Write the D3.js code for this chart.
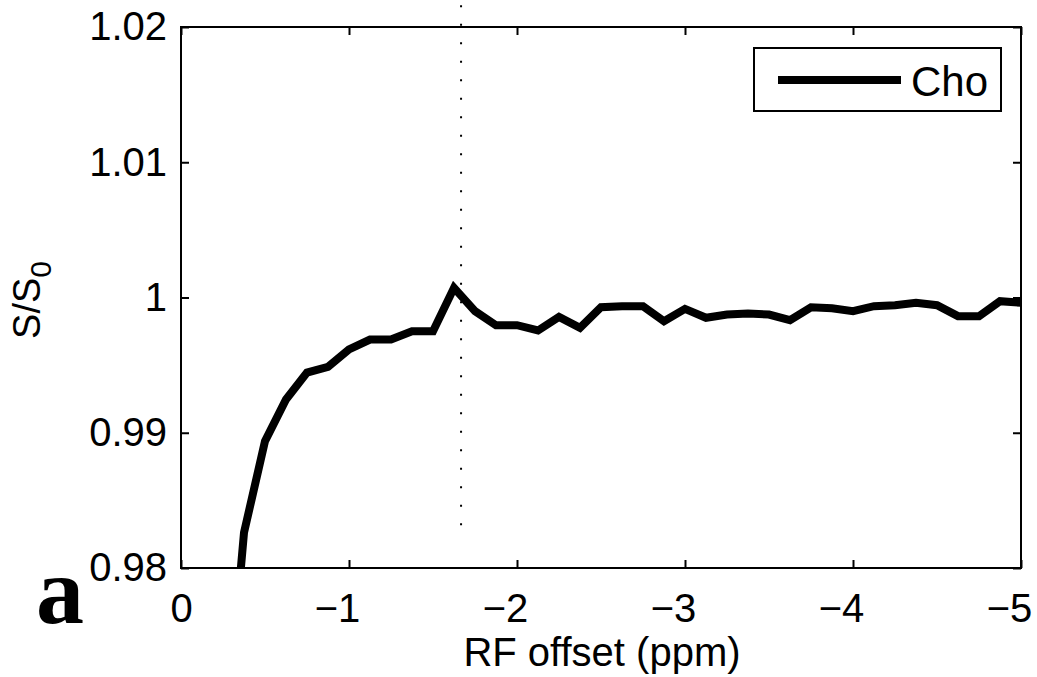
<!DOCTYPE html>
<html>
<head>
<meta charset="utf-8">
<script src="https://cdn.jsdelivr.net/npm/d3@7"></script>
<style>
  body { margin: 0; background: #fff; }
  text { fill: #000; }
</style>
</head>
<body>
<svg width="1037" height="677"></svg>
<script>
// RF offset (ppm) and normalised signal S/S0 for Cho
const offsets = [-0.25, -0.375, -0.5, -0.625, -0.75, -0.875, -1.0, -1.125, -1.25, -1.375, -1.5,
	-1.625, -1.75, -1.875, -2.0, -2.125, -2.25, -2.375, -2.5, -2.625, -2.75, -2.875, -3.0,
	-3.125, -3.25, -3.375, -3.5, -3.625, -3.75, -3.875, -4.0, -4.125, -4.25, -4.375, -4.5,
	-4.625, -4.75, -4.875, -5.0];
const choValues = [0.9650, 0.98262, 0.98938, 0.99246, 0.99445, 0.99488, 0.99616, 0.99689, 0.99689, 0.99751, 0.99751,
	1.00072, 0.99899, 0.99795, 0.99795, 0.99756, 0.99857, 0.99776, 0.99928, 0.99936, 0.99936, 0.99825, 0.99916,
	0.99850, 0.99874, 0.99882, 0.99874, 0.99832, 0.99928, 0.99920, 0.99899, 0.99936, 0.99943, 0.99961, 0.99943,
	0.99862, 0.99862, 0.99973, 0.99961];
const xTicks = [0, -1, -2, -3, -4, -5];
const yTicks = [0.98, 0.99, 1.0, 1.01, 1.02];
const markerOffset = -1.667;
const markerRange = [1.0216, 0.9821];
const seriesName = 'Cho';

const sans = "'Liberation Sans', Arial, Helvetica, sans-serif";
const serif = "'Liberation Serif', 'Times New Roman', serif";

let svg = d3.select("svg");

const plotLeft = 181, plotRight = 1021, plotTop = 27, plotBottom = 568;

const x = d3.scaleLinear().domain([0, -5]).range([plotLeft, plotRight]);
const y = d3.scaleLinear().domain([0.98, 1.02]).range([plotBottom, plotTop]);

svg.append("defs").append("clipPath")
		.attr("id", "plot-clip")
	.append("rect")
		.attr("x", plotLeft).attr("y", plotTop)
		.attr("width", plotRight - plotLeft).attr("height", plotBottom - plotTop);

// dotted marker line (runs a bit past the top of the box)
svg.append("line")
	.attr("x1", x(markerOffset)).attr("x2", x(markerOffset))
	.attr("y1", y(markerRange[0])).attr("y2", y(markerRange[1]))
	.attr("stroke", "#000")
	.attr("stroke-width", 2)
	.attr("stroke-dasharray", "2,16.5");

const data = offsets.map((o, i) => ({ x: o, y: choValues[i] }));

const line = d3.line()
	.x(d => x(d.x))
	.y(d => y(d.y));

svg.append("path")
	.datum(data)
	.attr("clip-path", "url(#plot-clip)")
	.attr("fill", "none")
	.attr("stroke", "#000")
	.attr("stroke-width", 8)
	.attr("stroke-linejoin", "miter")
	.attr("d", line);

// axes, matlab style: ticks inside, mirrored on top / right
const tickLen = 8;

const xAxisBottom = d3.axisBottom(x).tickValues(xTicks).tickSizeInner(-tickLen).tickSizeOuter(0).tickPadding(26)
	.tickFormat(d3.format("d"));
const xAxisTop = d3.axisTop(x).tickValues(xTicks).tickSizeInner(-tickLen).tickSizeOuter(0).tickFormat("");
const yAxisLeft = d3.axisLeft(y).tickValues(yTicks).tickSizeInner(-tickLen).tickSizeOuter(0).tickPadding(14)
	.tickFormat(d => d === 1 ? "1" : d3.format(".2f")(d));
const yAxisRight = d3.axisRight(y).tickValues(yTicks).tickSizeInner(-tickLen).tickSizeOuter(0).tickFormat("");

function styleAxis(g) {
	g.select(".domain").remove();
	g.selectAll(".tick line").attr("stroke", "#000").attr("stroke-width", 2);
	g.selectAll(".tick text")
		.style("font-family", sans)
		.style("font-size", "40px")
		.attr("fill", "#000");
}

const gx = svg.append("g").attr("transform", `translate(0,${plotBottom})`).call(xAxisBottom).call(styleAxis);
// keep the digit on the tick, let the minus sign hang to the left
gx.selectAll(".tick text").attr("dx", d => d < 0 ? -12 : 0);
svg.append("g").attr("transform", `translate(0,${plotTop})`).call(xAxisTop).call(styleAxis);
svg.append("g").attr("transform", `translate(${plotLeft},0)`).call(yAxisLeft).call(styleAxis);
svg.append("g").attr("transform", `translate(${plotRight},0)`).call(yAxisRight).call(styleAxis);

// box
svg.append("rect")
	.attr("x", plotLeft).attr("y", plotTop)
	.attr("width", plotRight - plotLeft).attr("height", plotBottom - plotTop)
	.attr("fill", "none")
	.attr("stroke", "#000")
	.attr("stroke-width", 2);

// axis labels
svg.append("text")
	.attr("x", 602)
	.attr("y", 666)
	.attr("text-anchor", "middle")
	.style("font-family", sans)
	.style("font-size", "40px")
	.text("RF offset (ppm)");

const yLabel = svg.append("text")
	.attr("transform", "translate(40,300) rotate(-90)")
	.attr("text-anchor", "middle")
	.style("font-family", sans)
	.style("font-size", "38px");
yLabel.append("tspan").text("S/S");
yLabel.append("tspan").attr("dy", 11).style("font-size", "30px").text("0");

// panel letter
svg.append("text")
	.attr("x", 36)
	.attr("y", 623)
	.style("font-family", serif)
	.style("font-weight", "bold")
	.style("font-size", "96px")
	.text("a");

// legend
const legend = svg.append("g");
legend.append("rect")
	.attr("x", 754).attr("y", 48)
	.attr("width", 247).attr("height", 63)
	.attr("fill", "#fff")
	.attr("stroke", "#000")
	.attr("stroke-width", 2);
legend.append("line")
	.attr("x1", 778).attr("x2", 901)
	.attr("y1", 80).attr("y2", 80)
	.attr("stroke", "#000")
	.attr("stroke-width", 8);
legend.append("text")
	.attr("x", 911)
	.attr("y", 96)
	.style("font-family", sans)
	.style("font-size", "42px")
	.text(seriesName);
</script>
</body>
</html>
